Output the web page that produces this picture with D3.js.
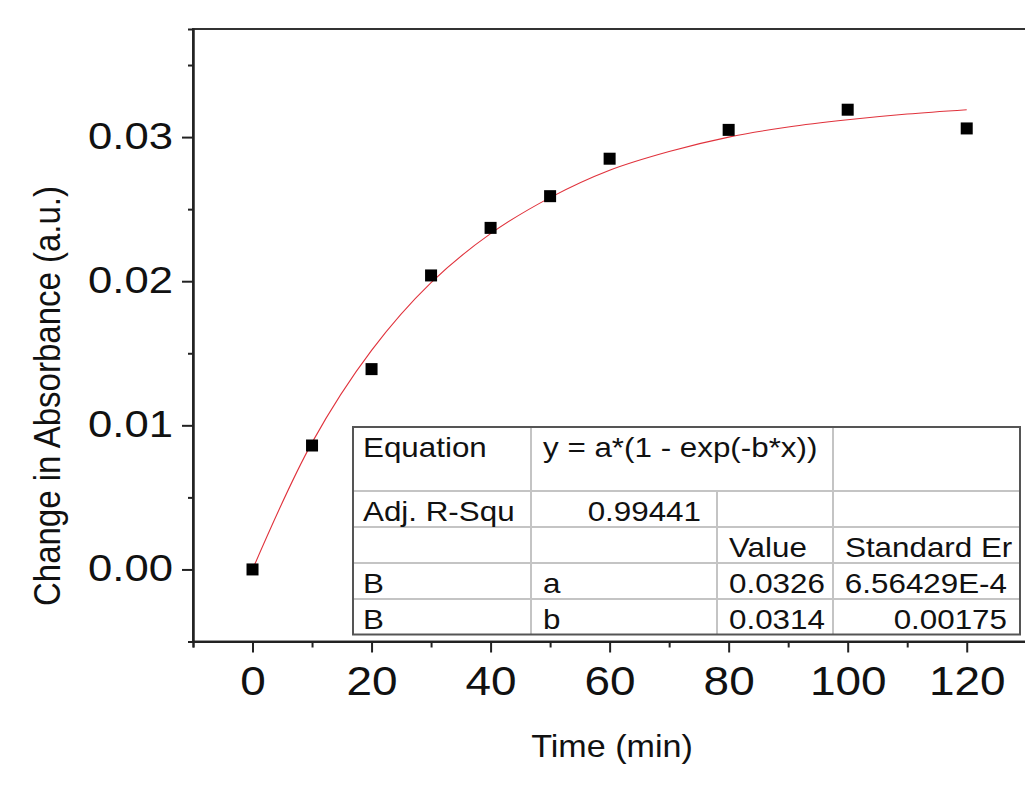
<!DOCTYPE html>
<html>
<head>
<meta charset="utf-8">
<script src="https://cdn.jsdelivr.net/npm/d3@7"></script>
<style>
    body { margin: 0; background: #fff; }
    svg { display: block; font-family: "Liberation Sans", Arial, sans-serif; }
</style>
</head>
<body>
<svg id="fit-vis" width="1025" height="795">
    <g id="fit-line"></g>
    <g id="points"></g>
    <g id="table"></g>
    <g id="frame"></g>
    <g id="x-axis-minor"></g>
    <g id="y-axis-minor"></g>
    <g id="x-axis"></g>
    <g id="y-axis"></g>
    <g id="titles"></g>
</svg>
<script>
// measured points
const timeMin = [0, 10, 20, 30, 40, 50, 60, 80, 100, 120];
const absChange = [0.0000, 0.0086, 0.0139, 0.0204, 0.0237, 0.0259, 0.0285, 0.0305, 0.0319, 0.0306];

// red fit curve, every 10 min
const fitTime = [0, 10, 20, 30, 40, 50, 60, 70, 80, 90, 100, 110, 120];
const fitAbs = [0.0000, 0.0088, 0.0152, 0.0199, 0.0233, 0.0258, 0.0277, 0.0290, 0.0300, 0.0307, 0.0312, 0.0316, 0.0319];

const xTicks = [0, 20, 40, 60, 80, 100, 120];
const xMinorTicks = [-10, 10, 30, 50, 70, 90, 110, 130];
const yTicks = [0, 0.01, 0.02, 0.03];
const yMinorTicks = [-0.005, 0.005, 0.015, 0.025, 0.035];

const xTitle = "Time (min)";
const yTitle = "Change in Absorbance (a.u.)";

// fit report table, one array per row
const tableRows = [
    ["Equation", "y = a*(1 - exp(-b*x))", "", ""],
    ["Adj. R-Squ", "0.99441", "", ""],
    ["", "", "Value", "Standard Er"],
    ["B", "a", "0.0326", "6.56429E-4"],
    ["B", "b", "0.0314", "0.00175"],
];

class FitChart {
    constructor() {
        this.svg = d3.select("svg#fit-vis");
        this.bounds = {
            minX: 193,
            maxX: 1056,
            minY: 29,
            maxY: 641.5,
        };
        this.textStretch = 1.12;

        this.updateXScale();
        this.updateYScale();
        this.drawFrame();
        this.updateXAxis();
        this.updateYAxis();
        this.drawFit();
        this.drawPoints();
        this.drawTable();
        this.drawTitles();
    }

    updateXScale() {
        this.scaleX = d3.scaleLinear().domain([-10, 135]).range([this.bounds.minX, this.bounds.maxX]);
    }

    updateYScale() {
        this.scaleY = d3.scaleLinear().domain([-0.005, 0.0375]).range([this.bounds.maxY, this.bounds.minY]);
    }

    drawFrame() {
        let b = this.bounds;
        this.svg.select("g#frame").append("rect")
            .attr("x", b.minX).attr("y", b.minY)
            .attr("width", b.maxX - b.minX).attr("height", b.maxY - b.minY)
            .attr("fill", "none").attr("stroke", "#333").attr("stroke-width", 2);
    }

    styleAxis(g) {
        g.select(".domain").attr("stroke", "#222").attr("stroke-width", 2);
        g.selectAll(".tick line").attr("stroke", "#222").attr("stroke-width", 2);
    }

    updateXAxis() {
        let shift = `translate(0 ${this.bounds.maxY})`;
        let minorG = this.svg.select("g#x-axis-minor").attr("transform", shift);
        minorG.call(d3.axisBottom(this.scaleX).tickValues(xMinorTicks).tickSize(6).tickFormat(""));
        this.styleAxis(minorG);

        let axisG = this.svg.select("g#x-axis").attr("transform", shift);
        let xAxis = d3.axisBottom(this.scaleX).tickValues(xTicks).tickSize(11).tickPadding(13).tickSizeOuter(0);
        axisG.call(xAxis);
        this.styleAxis(axisG);
        axisG.selectAll(".tick text")
            .attr("font-size", 41).attr("font-family", null).attr("fill", "#111")
            .attr("transform", `scale(${this.textStretch},1)`);
    }

    updateYAxis() {
        let shift = `translate(${this.bounds.minX} 0)`;
        let minorG = this.svg.select("g#y-axis-minor").attr("transform", shift);
        minorG.call(d3.axisLeft(this.scaleY).tickValues(yMinorTicks).tickSize(5).tickFormat(""));
        this.styleAxis(minorG);

        let sx = 1.18;
        let axisG = this.svg.select("g#y-axis").attr("transform", shift);
        let yAxis = d3.axisLeft(this.scaleY).tickValues(yTicks).tickSize(11).tickPadding(9)
            .tickSizeOuter(0).tickFormat(d3.format(".2f"));
        axisG.call(yAxis);
        this.styleAxis(axisG);
        axisG.selectAll(".tick text")
            .attr("font-size", 37).attr("font-family", null).attr("fill", "#111")
            .attr("x", -20 / sx).attr("dy", "0.3em")
            .attr("transform", `scale(${sx},1)`);
    }

    drawFit() {
        let line = d3.line()
            .x(d => this.scaleX(d[0]))
            .y(d => this.scaleY(d[1]))
            .curve(d3.curveCatmullRom);
        this.svg.select("g#fit-line").append("path")
            .datum(d3.zip(fitTime, fitAbs))
            .attr("d", line)
            .attr("fill", "none")
            .attr("stroke", "#e0323c")
            .attr("stroke-width", 1.1);
    }

    drawPoints() {
        let size = 12;
        this.svg.select("g#points").selectAll("rect")
            .data(d3.zip(timeMin, absChange))
            .join("rect")
            .attr("x", d => this.scaleX(d[0]) - size / 2)
            .attr("y", d => this.scaleY(d[1]) - size / 2)
            .attr("width", size).attr("height", size)
            .attr("fill", "#000");
    }

    drawTable() {
        let g = this.svg.select("g#table");
        let cols = [353, 531, 717, 833, 1020];
        let rows = [427, 491, 527, 563, 599, 634.5];
        let grid = "#c4c4c4";

        // horizontal rules
        rows.slice(1, -1).forEach(y => {
            g.append("line").attr("x1", cols[0]).attr("x2", cols[4]).attr("y1", y).attr("y2", y)
                .attr("stroke", grid).attr("stroke-width", 2);
        });
        // vertical rules (the value column starts below the equation row)
        [[cols[1], rows[0]], [cols[2], rows[1]], [cols[3], rows[0]]].forEach(([x, y0]) => {
            g.append("line").attr("x1", x).attr("x2", x).attr("y1", y0).attr("y2", rows[5])
                .attr("stroke", grid).attr("stroke-width", 2);
        });
        g.append("rect")
            .attr("x", cols[0]).attr("y", rows[0])
            .attr("width", cols[4] - cols[0]).attr("height", rows[5] - rows[0])
            .attr("fill", "none").attr("stroke", "#555").attr("stroke-width", 2);

        // right aligned cells: [row, col]
        let rightCells = { "1,1": 701, "3,3": 1007, "4,3": 1007 };
        tableRows.forEach((row, r) => {
            row.forEach((txt, c) => {
                if (txt === "") return;
                let key = `${r},${c}`;
                let right = rightCells[key];
                let x = right !== undefined ? right : cols[c] + (c === 0 ? 10 : 12);
                let cell = g.append("g")
                    .attr("transform", `translate(${x} ${rows[r] + 30}) scale(${this.textStretch},1)`);
                cell.append("text")
                    .attr("font-size", 28)
                    .attr("fill", "#111")
                    .attr("text-anchor", right !== undefined ? "end" : "start")
                    .text(txt);
            });
        });
    }

    drawTitles() {
        let g = this.svg.select("g#titles");
        g.append("g")
            .attr("transform", `translate(612 757) scale(1.1,1)`)
            .append("text")
            .attr("text-anchor", "middle").attr("font-size", 31).attr("fill", "#111")
            .text(xTitle);
        g.append("g")
            .attr("transform", `translate(60 396) scale(1.13,1) rotate(-90)`)
            .append("text")
            .attr("text-anchor", "middle").attr("font-size", 33).attr("fill", "#111")
            .text(yTitle);
    }
}

new FitChart();
</script>
</body>
</html>
